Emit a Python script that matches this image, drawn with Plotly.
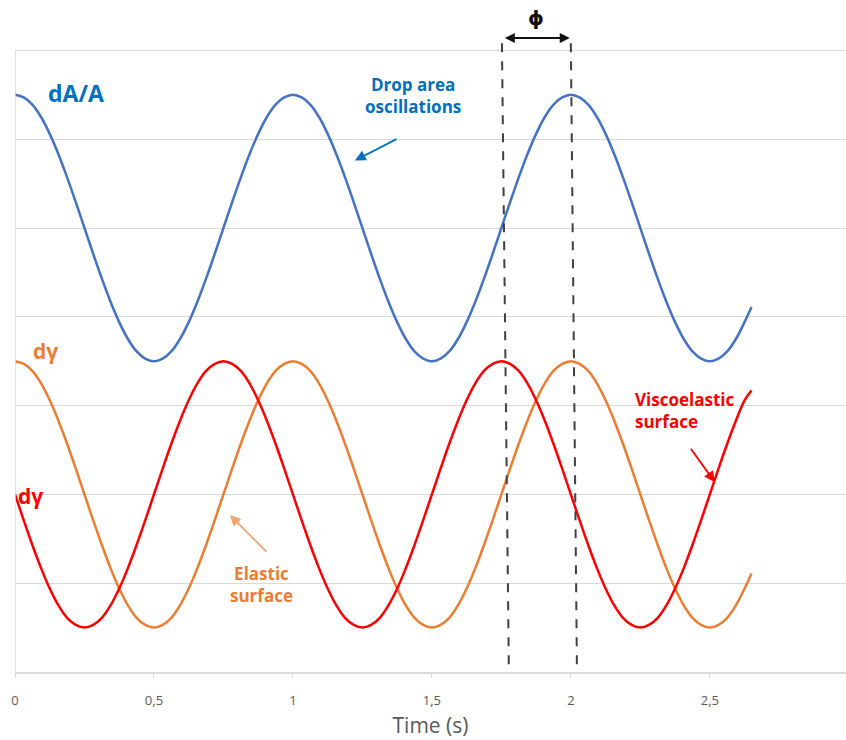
import plotly.graph_objects as go

# sampling grid (s): every 1/32 s up to 2.625 s, then the last point of the record
time_s = [round(i * 0.03125, 5) for i in range(85)] + [2.65]

drop_area = [6.5, 6.47, 6.39, 6.25, 6.06, 5.83, 5.57, 5.29, 5.0, 4.71, 4.43, 4.17, 3.94, 3.75, 3.61, 3.53,
             3.5, 3.53, 3.61, 3.75, 3.94, 4.17, 4.43, 4.71, 5.0, 5.29, 5.57, 5.83, 6.06, 6.25, 6.39, 6.47,
             6.5, 6.47, 6.39, 6.25, 6.06, 5.83, 5.57, 5.29, 5.0, 4.71, 4.43, 4.17, 3.94, 3.75, 3.61, 3.53,
             3.5, 3.53, 3.61, 3.75, 3.94, 4.17, 4.43, 4.71, 5.0, 5.29, 5.57, 5.83, 6.06, 6.25, 6.39, 6.47,
             6.5, 6.47, 6.39, 6.25, 6.06, 5.83, 5.57, 5.29, 5.0, 4.71, 4.43, 4.17, 3.94, 3.75, 3.61, 3.53,
             3.5, 3.53, 3.61, 3.75, 3.94, 4.11]

elastic = [3.5, 3.47, 3.39, 3.25, 3.06, 2.83, 2.57, 2.29, 2.0, 1.71, 1.43, 1.17, 0.94, 0.75, 0.61, 0.53,
           0.5, 0.53, 0.61, 0.75, 0.94, 1.17, 1.43, 1.71, 2.0, 2.29, 2.57, 2.83, 3.06, 3.25, 3.39, 3.47,
           3.5, 3.47, 3.39, 3.25, 3.06, 2.83, 2.57, 2.29, 2.0, 1.71, 1.43, 1.17, 0.94, 0.75, 0.61, 0.53,
           0.5, 0.53, 0.61, 0.75, 0.94, 1.17, 1.43, 1.71, 2.0, 2.29, 2.57, 2.83, 3.06, 3.25, 3.39, 3.47,
           3.5, 3.47, 3.39, 3.25, 3.06, 2.83, 2.57, 2.29, 2.0, 1.71, 1.43, 1.17, 0.94, 0.75, 0.61, 0.53,
           0.5, 0.53, 0.61, 0.75, 0.94, 1.11]

viscoelastic = [2.0, 1.71, 1.43, 1.17, 0.94, 0.75, 0.61, 0.53, 0.5, 0.53, 0.61, 0.75, 0.94, 1.17, 1.43, 1.71,
                2.0, 2.29, 2.57, 2.83, 3.06, 3.25, 3.39, 3.47, 3.5, 3.47, 3.39, 3.25, 3.06, 2.83, 2.57, 2.29,
                2.0, 1.71, 1.43, 1.17, 0.94, 0.75, 0.61, 0.53, 0.5, 0.53, 0.61, 0.75, 0.94, 1.17, 1.43, 1.71,
                2.0, 2.29, 2.57, 2.83, 3.06, 3.25, 3.39, 3.47, 3.5, 3.47, 3.39, 3.25, 3.06, 2.83, 2.57, 2.29,
                2.0, 1.71, 1.43, 1.17, 0.94, 0.75, 0.61, 0.53, 0.5, 0.53, 0.61, 0.75, 0.94, 1.17, 1.43, 1.71,
                2.0, 2.29, 2.57, 2.83, 3.06, 3.17]

x_tick_vals = [0, 0.5, 1, 1.5, 2, 2.5]
x_tick_text = ["0", "0,5", "1", "1,5", "2", "2,5"]

phase_lines = [((1.752, 7.08), (1.777, 0)), ((2.0, 7.08), (2.022, 0))]

BLUE = "#4472C4"
ORANGE = "#ED7D31"
RED = "#FF0000"
TXT_BLUE = "#0070C0"
FONT = "Open Sans"

fig = go.Figure()
for ys, col in [(drop_area, BLUE), (elastic, ORANGE), (viscoelastic, RED)]:
    fig.add_trace(go.Scatter(x=time_s, y=ys, mode="lines",
                             line=dict(color=col, width=2.5, shape="spline", smoothing=1,
                                       simplify=False),
                             showlegend=False, hoverinfo="skip"))

shapes = [dict(type="line", xref="x", yref="y", x0=0, x1=0, y0=0, y1=7,
               line=dict(color="#d9d9d9", width=1.5))]
for (xa, ya), (xb, yb) in phase_lines:
    shapes.append(dict(type="line", xref="x", yref="y", x0=xa, y0=ya, x1=xb, y1=yb,
                       line=dict(color="#404040", width=2, dash="dash")))

def label(text, x, y, color, size, align="center"):
    return dict(text=f"<b>{text}</b>", x=x, y=y, xref="x", yref="y", showarrow=False,
                font=dict(family=FONT, size=size, color=color), align=align)

def arrow(xh, yh, xt, yt, color, side="end", width=1.8):
    return dict(text="", x=xh, y=yh, ax=xt, ay=yt, xref="x", yref="y", axref="x", ayref="y",
                showarrow=True, arrowhead=2, arrowsize=1.2, arrowwidth=width, arrowcolor=color,
                arrowside=side, standoff=0, startstandoff=0)

annotations = [
    label("dA/A", 0.218, 6.52, TXT_BLUE, 23),
    label("Drop area<br>oscillations", 1.432, 6.49, TXT_BLUE, 17),
    arrow(1.223, 5.76, 1.378, 6.01, TXT_BLUE),
    label("dγ", 0.11, 3.62, ORANGE, 21),
    label("dγ", 0.056, 1.98, RED, 21),
    label("Elastic<br>surface", 0.888, 0.99, ORANGE, 17),
    arrow(0.773, 1.767, 0.91, 1.339, "#F4A46E"),
    label("Viscoelastic<br>surface", 2.41, 2.95, RED, 17, align="left"),
    arrow(2.518, 2.138, 2.428, 2.532, RED),
    dict(text="", x=1.996, y=7.14, ax=1.757, ay=7.14, xref="x", yref="y", axref="x", ayref="y",
         showarrow=True, arrowhead=2, arrowsize=1.0, arrowwidth=2, arrowcolor="#111111",
         arrowside="end+start", standoff=0, startstandoff=0),
    dict(text="<b>ϕ</b>", x=1.876, y=7.37, xref="x", yref="y", showarrow=False,
         font=dict(family="DejaVu Sans", size=20, color="#111111")),
]

fig.update_layout(
    width=846, height=740,
    margin=dict(l=15, r=0, t=6, b=68),
    paper_bgcolor="white", plot_bgcolor="white",
    shapes=shapes, annotations=annotations,
    xaxis=dict(range=[0, 2.99], tickvals=x_tick_vals, ticktext=x_tick_text,
               showgrid=False, zeroline=False, showline=True, linecolor="#d9d9d9", linewidth=1.5,
               ticks="outside", ticklen=4, tickcolor="#d9d9d9", ticklabelstandoff=12,
               tickfont=dict(family=FONT, size=13, color="#595959"),
               title=dict(text="Time (s)", font=dict(family=FONT, size=21, color="#595959"),
                          standoff=10)),
    yaxis=dict(range=[0, 7.5], dtick=1, tick0=0, showgrid=True, gridcolor="#d9d9d9", gridwidth=1,
               showticklabels=False, zeroline=False, showline=False, ticks=""),
)

fig.write_html("out.html")
